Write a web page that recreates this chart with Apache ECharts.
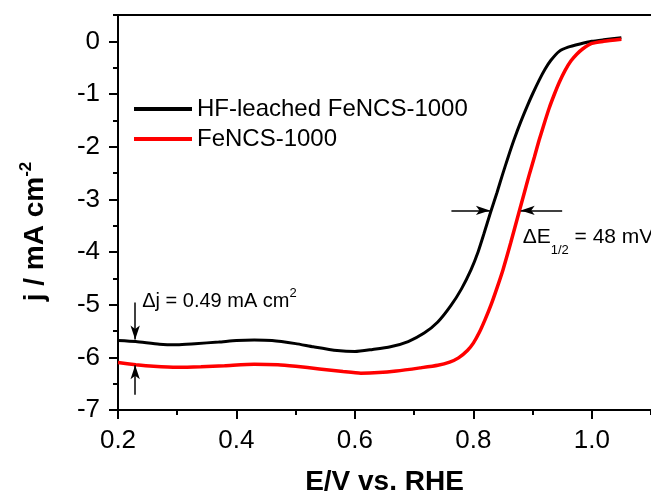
<!DOCTYPE html>
<html><head><meta charset="utf-8">
<script src="https://cdn.jsdelivr.net/npm/echarts@6/dist/echarts.min.js"></script>
<style>html,body{margin:0;padding:0;background:#fff}#c{width:651px;height:492px}</style>
</head><body><div id="c"></div>
<script>
const seriesNames = ['HF-leached FeNCS-1000', 'FeNCS-1000'];
const blackE = [0.20,0.23,0.27,0.30,0.33,0.37,0.40,0.43,0.46,0.50,0.53,0.57,0.60,0.63,0.66,0.69,0.717,0.74,0.762,0.78,0.796,0.808,0.818,0.829,0.84,0.849,0.859,0.869,0.88,0.891,0.90,0.911,0.921,0.931,0.945,0.96,0.98,1.00,1.02,1.05];
const blackJ = [-5.68,-5.70,-5.75,-5.76,-5.74,-5.71,-5.68,-5.67,-5.68,-5.74,-5.80,-5.87,-5.89,-5.85,-5.80,-5.70,-5.54,-5.33,-5.02,-4.70,-4.34,-4.00,-3.65,-3.25,-2.87,-2.54,-2.19,-1.86,-1.53,-1.23,-1.00,-0.74,-0.53,-0.36,-0.19,-0.11,-0.05,0.00,0.03,0.07];
const redE = [0.20,0.23,0.26,0.30,0.34,0.38,0.43,0.47,0.50,0.54,0.58,0.61,0.64,0.67,0.71,0.74,0.76,0.775,0.79,0.80,0.81,0.82,0.83,0.84,0.85,0.863,0.877,0.886,0.894,0.903,0.911,0.92,0.928,0.937,0.945,0.955,0.965,0.975,0.985,1.00,1.02,1.05];
const redJ = [-6.10,-6.14,-6.17,-6.19,-6.18,-6.16,-6.13,-6.14,-6.17,-6.22,-6.27,-6.30,-6.29,-6.26,-6.20,-6.15,-6.09,-6.01,-5.87,-5.73,-5.53,-5.28,-5.00,-4.68,-4.34,-3.83,-3.25,-2.88,-2.55,-2.20,-1.88,-1.55,-1.27,-1.00,-0.78,-0.55,-0.37,-0.24,-0.14,-0.04,0.00,0.04];
const xMajor = [0.2,0.4,0.6,0.8,1.0];
const xMinor = [0.3,0.5,0.7,0.9,1.1];
const yMajor = [-7,-6,-5,-4,-3,-2,-1,0];
const yMinor = [-6.5,-5.5,-4.5,-3.5,-2.5,-1.5,-0.5,0.5];
// annotation arrows: [x1,y1,x2,y2] (arrowhead at x2,y2)
const arrows = [[0.229,-4.96,0.229,-5.66],[0.229,-6.71,0.229,-6.15],[0.763,-3.21,0.828,-3.21],[0.950,-3.21,0.880,-3.21]];
const djPos = [0.240,-4.94];
const dePos = [0.8824,-3.716];

const F = '"Liberation Sans", Arial, sans-serif';
const zip = (a,b) => a.map((v,i)=>[v,b[i]]);
const chart = echarts.init(document.getElementById('c'), null, {renderer:'canvas'});
const axLine = {show:true, onZero:false, lineStyle:{color:'#000', width:2}};
chart.setOption({
  animation:false,
  backgroundColor:'#fff',
  grid:{left:118, right:0, top:15, bottom:82, containLabel:false, outerBoundsMode:'none'},
  legend:{
    orient:'vertical', left:129, top:92, itemWidth:58, itemHeight:14, itemGap:6,
    icon:'path://M0,6L58,6L58,10L0,10Z',
    textStyle:{fontFamily:F, fontSize:24, color:'#000'},
    data:seriesNames
  },
  xAxis:[
    {type:'value', min:0.2, max:1.1, position:'bottom', axisLine:axLine,
     axisTick:{show:true, customValues:xMajor, length:9, lineStyle:{color:'#000', width:2}},
     axisLabel:{customValues:xMajor, formatter:v=>v.toFixed(1), fontFamily:F, fontSize:26, color:'#000', margin:18},
     splitLine:{show:false},
     name:'E/V vs. RHE', nameLocation:'middle', nameGap:58,
     nameTextStyle:{fontFamily:F, fontSize:28, fontWeight:'bold', color:'#000'}},
    {type:'value', min:0.2, max:1.1, position:'bottom', axisLine:{show:false, onZero:false},
     axisTick:{show:true, customValues:xMinor, length:5, lineStyle:{color:'#000', width:2}},
     axisLabel:{show:false}, splitLine:{show:false}},
    {type:'value', min:0.2, max:1.1, position:'top', axisLine:axLine,
     axisTick:{show:false}, axisLabel:{show:false}, splitLine:{show:false}}
  ],
  yAxis:[
    {type:'value', min:-7, max:0.5, position:'left', axisLine:axLine,
     axisTick:{show:true, customValues:yMajor, length:9, lineStyle:{color:'#000', width:2}},
     axisLabel:{customValues:yMajor, fontFamily:F, fontSize:26, color:'#000', margin:18},
     splitLine:{show:false},
     name:'{a|j / mA cm}{s|-2}', nameLocation:'middle', nameGap:66,
     nameTextStyle:{fontFamily:F, fontSize:28, fontWeight:'bold', color:'#000', padding:[0,38,0,0],
       rich:{a:{fontFamily:F, fontSize:28, fontWeight:'bold', color:'#000', lineHeight:34, verticalAlign:'middle'},
             s:{fontFamily:F, fontSize:17, fontWeight:'bold', color:'#000', lineHeight:18, verticalAlign:'top'}}}},
    {type:'value', min:-7, max:0.5, position:'left', axisLine:{show:false, onZero:false},
     axisTick:{show:true, customValues:yMinor, length:5, lineStyle:{color:'#000', width:2}},
     axisLabel:{show:false}, splitLine:{show:false}}
  ],
  series:[
    {name:seriesNames[0], type:'line', data:zip(blackE,blackJ), showSymbol:false, symbol:'none', smooth:0.2,
     lineStyle:{color:'#000', width:3}, itemStyle:{color:'#000'},
     markLine:{silent:true, symbol:['none','arrow'], symbolSize:[7,14], label:{show:false},
       lineStyle:{color:'#000', width:1.5, type:'solid'},
       data:arrows.map(a=>[{coord:[a[0],a[1]]},{coord:[a[2],a[3]]}])},
     markPoint:{silent:true, symbol:'circle', symbolSize:1, itemStyle:{color:'rgba(0,0,0,0)'},
       data:[
         {coord:djPos, label:{show:true, position:'right', distance:0, formatter:'{a|\u0394j = 0.49 mA cm}{s|2}',
           rich:{a:{fontFamily:F, fontSize:20, color:'#000', lineHeight:30, verticalAlign:'middle'},
                 s:{fontFamily:F, fontSize:13, color:'#000', lineHeight:14, verticalAlign:'top'}}}},
         {coord:dePos, label:{show:true, position:'right', distance:0, formatter:'{a|\u0394E}{s|1/2}{a| = 48 mV}',
           rich:{a:{fontFamily:F, fontSize:21, color:'#000', lineHeight:40, verticalAlign:'middle'},
                 s:{fontFamily:F, fontSize:13, color:'#000', lineHeight:14, verticalAlign:'bottom'}}}}
       ]}},
    {name:seriesNames[1], type:'line', data:zip(redE,redJ), showSymbol:false, symbol:'none', smooth:0.2,
     lineStyle:{color:'#ff0000', width:3.5}, itemStyle:{color:'#ff0000'}}
  ]
});
</script></body></html>
